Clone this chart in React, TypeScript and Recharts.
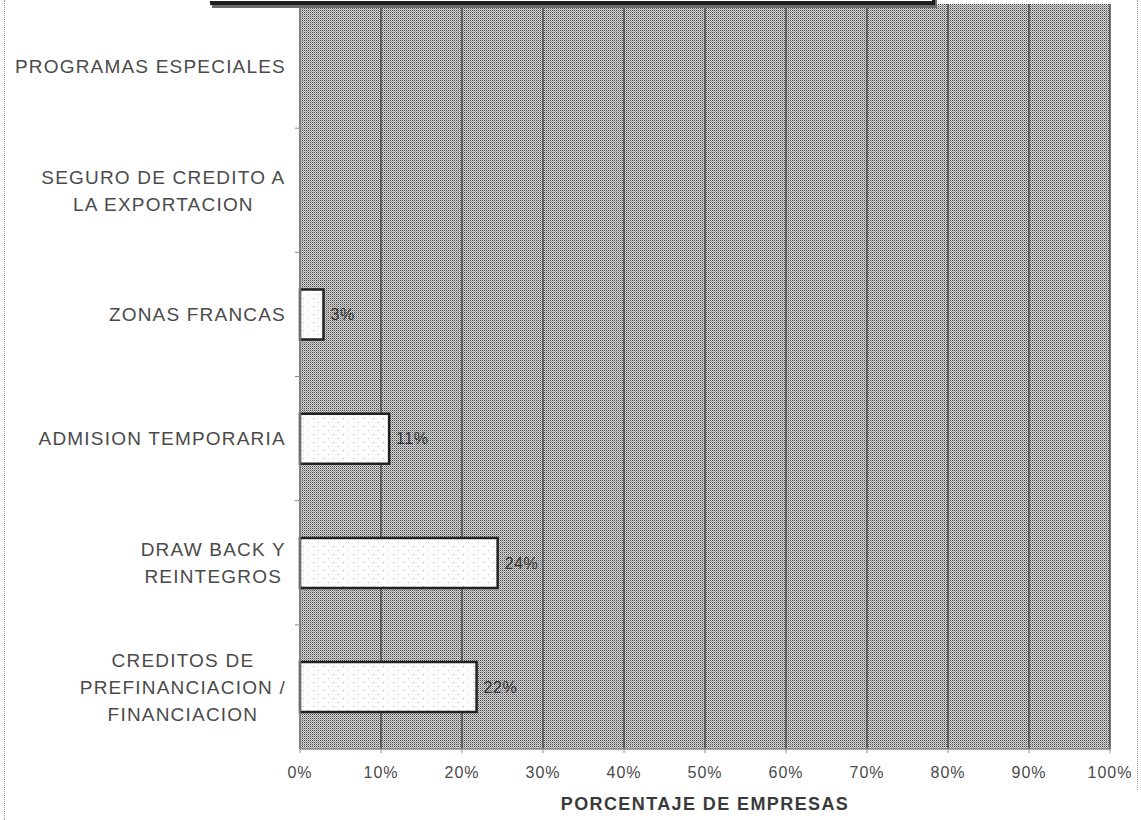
import React from 'react';
import { BarChart, Bar, XAxis, YAxis, CartesianGrid, LabelList } from 'recharts';

const categories = [
  'PROGRAMAS ESPECIALES',
  'SEGURO DE CREDITO A\nLA EXPORTACION',
  'ZONAS FRANCAS',
  'ADMISION TEMPORARIA',
  'DRAW BACK Y\nREINTEGROS',
  'CREDITOS DE\nPREFINANCIACION /\nFINANCIACION',
];
const values = [0, 0, 2.9, 11, 24.4, 21.8];
const xTicks = [0, 10, 20, 30, 40, 50, 60, 70, 80, 90, 100];

const data = categories.map((name, i) => ({ name, value: values[i] }));

const FONT = '"Liberation Sans", Arial, sans-serif';
const LABEL_SIZE = 19;
const LABEL_SPACING = 1.2;

// 4x4 dither tile for the plot background (scanned look)
const ditherTile = [
  ['#4a4a4a', '#d8d8d8', '#4a4a4a', '#d8d8d8'],
  ['#d8d8d8', '#969696', '#d8d8d8', '#969696'],
  ['#4a4a4a', '#d8d8d8', '#4a4a4a', '#d8d8d8'],
  ['#d8d8d8', '#969696', '#d8d8d8', '#969696'],
];

let ctx: CanvasRenderingContext2D | null = null;
function textWidth(s: string) {
  if (!ctx) ctx = document.createElement('canvas').getContext('2d');
  if (!ctx) return s.length * 11;
  ctx.font = `${LABEL_SIZE}px ${FONT}`;
  return ctx.measureText(s).width + LABEL_SPACING * s.length;
}

function CategoryTick(props: any) {
  const { x, y, payload } = props;
  const lines = String(payload.value).split('\n');
  const maxW = Math.max(...lines.map(textWidth));
  const right = x - 6;
  const cx = right - maxW / 2;
  const lh = 27;
  const y0 = y - ((lines.length - 1) * lh) / 2;
  const half = payload.offset || 0;
  return (
    <g>
      <text
        x={cx}
        y={y0}
        textAnchor="middle"
        fill="#4a4a4a"
        fontFamily={FONT}
        fontSize={LABEL_SIZE}
        letterSpacing={LABEL_SPACING}
      >
        {lines.map((l, i) => (
          <tspan key={i} x={cx} y={y0 + i * lh} dy="0.36em">
            {l}
          </tspan>
        ))}
      </text>
      {half > 0 && (
        <line x1={x + 3} x2={x + 8} y1={y - half} y2={y - half} stroke="#888" strokeWidth={1} />
      )}
    </g>
  );
}

const pct = (v: any) => (Number(v) > 0 ? `${Math.round(Number(v))}%` : '');

export default function App() {
  return (
    <div style={{ position: 'absolute', left: 0, top: 0, width: 1141, height: 820, background: '#fff', overflow: 'hidden' }}>
      <BarChart
        width={1141}
        height={820}
        data={data}
        layout="vertical"
        barCategoryGap="30%"
        margin={{ top: 4, right: 31, left: 0, bottom: 0 }}
      >
        <defs>
          <pattern id="dither" width="4" height="4" patternUnits="userSpaceOnUse">
            {ditherTile.map((row, r) =>
              row.map((c, k) => <rect key={`${r}-${k}`} x={k} y={r} width="1" height="1" fill={c} />)
            )}
          </pattern>
          <pattern id="stipple" width="10" height="8" patternUnits="userSpaceOnUse">
            <rect width="10" height="8" fill="#fdfdfd" />
            <rect x="3" y="2" width="1" height="1" fill="#b5b5b5" />
            <rect x="8" y="6" width="1" height="1" fill="#c5c5c5" />
          </pattern>
        </defs>
        <CartesianGrid
          horizontal={false}
          vertical
          stroke="#4a4a4a"
          strokeWidth={1.5}
          fill="url(#dither)"
          fillOpacity={1}
        />
        <XAxis
          type="number"
          domain={[0, 100]}
          ticks={xTicks}
          interval={0}
          tickFormatter={(v) => `${v}%`}
          axisLine={{ stroke: '#8a8a8a', strokeWidth: 1.5 }}
          tickLine={{ stroke: '#8a8a8a' }}
          tickSize={4}
          tickMargin={14}
          tick={{ fill: '#4a4a4a', fontFamily: FONT, fontSize: 16, letterSpacing: 1 }}
          height={71}
          label={{
            value: 'PORCENTAJE DE EMPRESAS',
            position: 'insideBottom',
            offset: 10,
            fill: '#3a3a3a',
            fontFamily: FONT,
            fontSize: 18,
            fontWeight: 'bold',
            letterSpacing: 1.4,
          }}
        />
        <YAxis
          type="category"
          dataKey="name"
          width={300}
          interval={0}
          tickLine={false}
          axisLine={{ stroke: '#8a8a8a', strokeWidth: 1.5 }}
          tick={<CategoryTick />}
        />
        <Bar
          dataKey="value"
          fill="url(#stipple)"
          stroke="#222"
          strokeWidth={2.5}
          isAnimationActive={false}
        >
          <LabelList
            dataKey="value"
            position="right"
            offset={7}
            formatter={pct}
            fill="#333"
            fontFamily={FONT}
            fontSize={16}
            letterSpacing={0.5}
          />
        </Bar>
      </BarChart>
      <div
        style={{
          position: 'absolute',
          left: 210,
          top: -30,
          width: 722,
          height: 31,
          background: '#fff',
          borderBottom: '4px solid #1e1e1e',
          borderRight: '3px solid #1e1e1e',
          boxShadow: '2px 3px 0 #6a6a6a',
        }}
      />
      <div style={{ position: 'absolute', left: 4, top: 0, height: 820, borderLeft: '1px dotted #999' }} />
      <div style={{ position: 'absolute', left: 1137, top: 0, height: 790, borderLeft: '1px dotted #999' }} />
    </div>
  );
}
